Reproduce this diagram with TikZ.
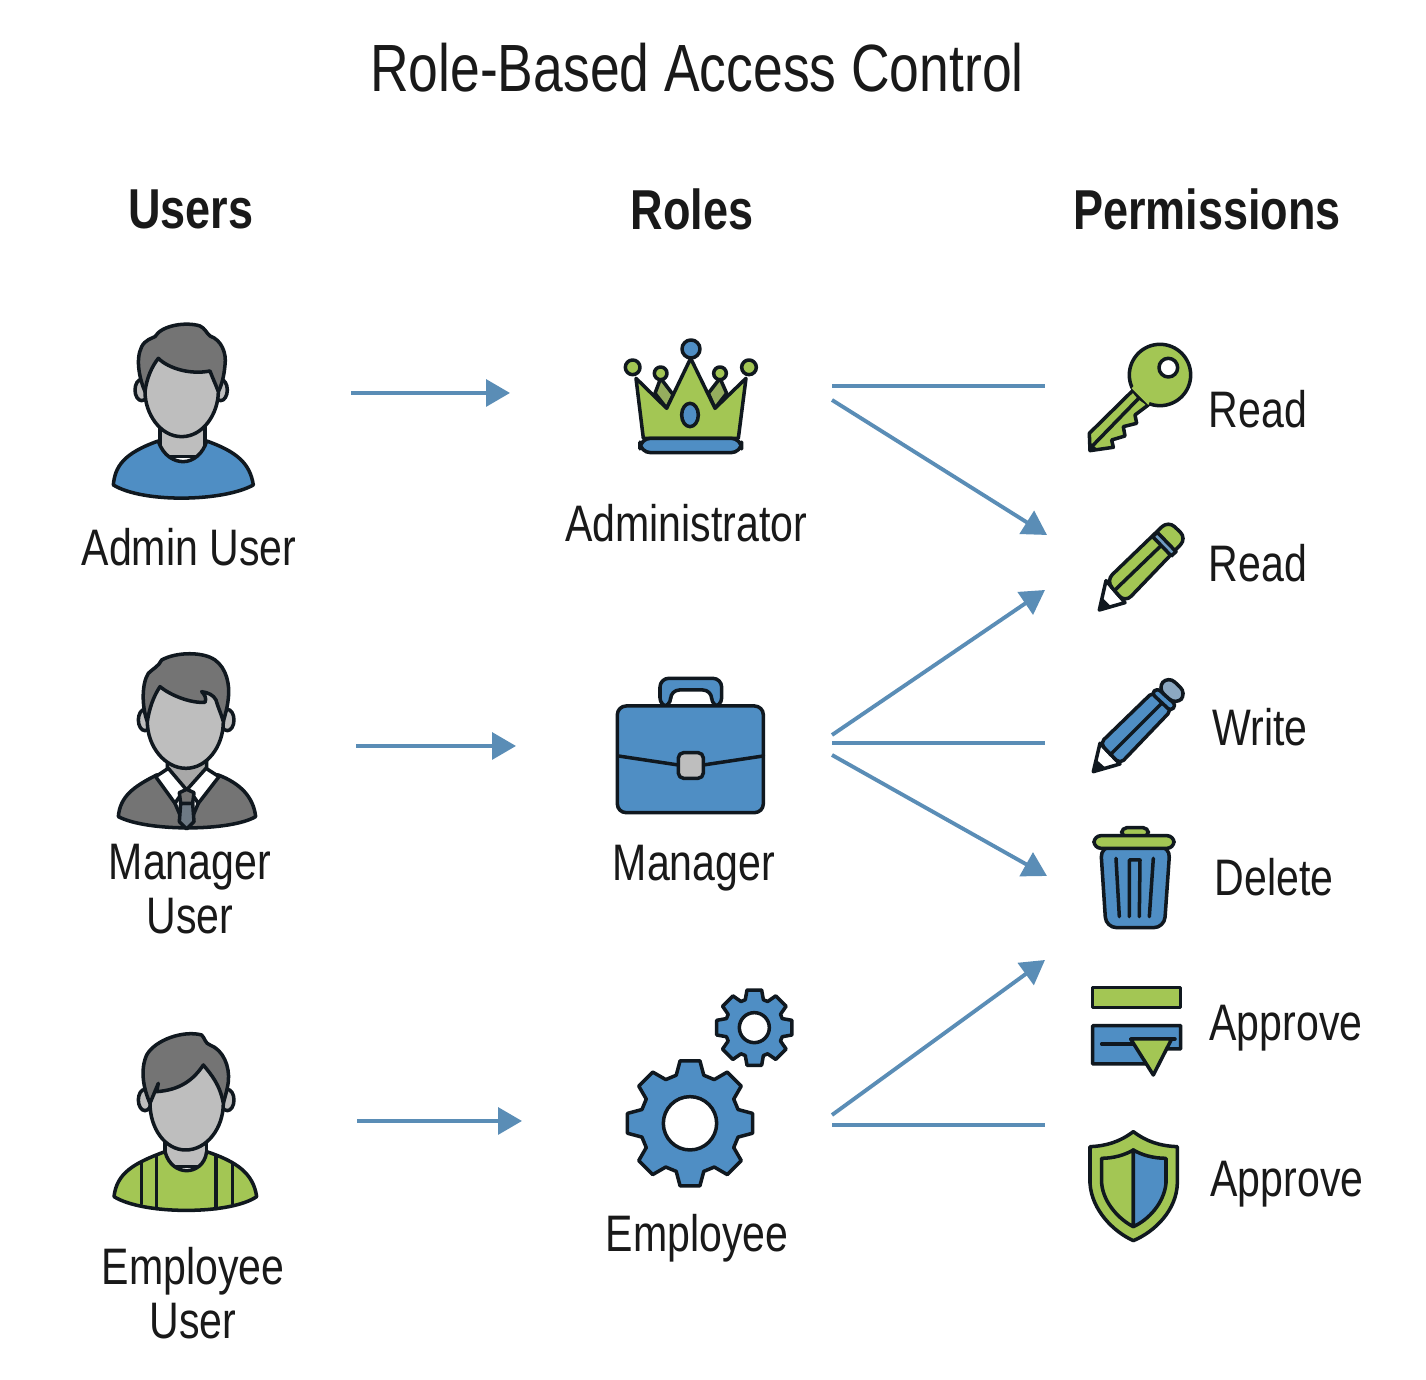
\documentclass[tikz,border=0pt]{standalone}
\usepackage{fontspec}
\setmainfont[FakeStretch=0.8]{Liberation Sans}
\usetikzlibrary{arrows.meta}
\definecolor{inkline}{HTML}{10181F}
\definecolor{iconblue}{HTML}{4F8EC4}
\definecolor{icongreen}{HTML}{A3C654}
\definecolor{hairgray}{HTML}{747474}
\definecolor{facegray}{HTML}{BEBEBE}
\definecolor{linkblue}{HTML}{5A8DB6}
\begin{document}
\begin{tikzpicture}[x=0.01cm, y=-0.01cm,
    >={Triangle[length=6.8pt, width=7.6pt]},
    icon/.style={draw=inkline, line width=1pt, line join=round, line cap=round},
    link/.style={draw=linkblue, line width=1.1pt},
    heading/.style={font=\fontsize{16}{19}\selectfont\bfseries, text=black!90},
    label/.style={font=\fontsize{14.6}{15.4}\selectfont, text=black!90, align=center},
    tiny/.style={shift={(#1)}, scale=1/3}]
  \useasboundingbox (0,0) rectangle (1426,1380);
  \fill[white] (0,0) rectangle (1426,1380);

  % --- title and column heads ---
  \node[font=\fontsize{19}{22}\selectfont, text=black!90] (title) at (697,68) {Role-Based Access Control};
  \node[heading] (users) at (191,209) {Users};
  \node[heading] (roles) at (692,209) {Roles};
  \node[heading] (perms) at (1207,209) {Permissions};

  % --- admin user ---
  \begin{scope}[tiny={90,310}]
    \draw[icon, fill=facegray] (210,350) rectangle (345,440);
    \draw[icon, fill=iconblue] (70,525) .. controls (75,470) and (100,430) .. (205,393)
      .. controls (220,440) and (255,455) .. (280,455) .. controls (310,455) and (340,430) .. (350,393)
      .. controls (440,425) and (480,460) .. (490,525) .. controls (400,575) and (160,580) .. (70,525) -- cycle;
    \draw[icon, fill=facegray] (155,240) circle [x radius=20, y radius=32];
    \draw[icon, fill=facegray] (392,240) circle [x radius=20, y radius=32];
    \draw[icon, fill=hairgray] (165,245) .. controls (150,210) and (135,150) .. (155,110)
      .. controls (165,90) and (185,85) .. (195,80) .. controls (215,45) and (290,35) .. (330,48)
      .. controls (345,55) and (350,70) .. (360,78) .. controls (395,90) and (410,130) .. (405,165)
      .. controls (402,200) and (395,225) .. (385,245) -- cycle;
    \draw[icon, fill=facegray] (165,245) .. controls (170,205) and (185,170) .. (205,145)
      .. controls (235,175) and (300,195) .. (360,183) .. controls (368,205) and (378,225) .. (385,245)
      .. controls (385,310) and (340,380) .. (275,380) .. controls (210,380) and (165,310) .. (165,245) -- cycle;
  \end{scope}

  % --- manager user ---
  \begin{scope}[tiny={90,640}]
    \draw[icon, fill=hairgray] (85,530) .. controls (90,470) and (130,440) .. (200,405) -- (385,405)
      .. controls (450,430) and (490,470) .. (497,530) .. controls (420,575) and (170,575) .. (85,530) -- cycle;
    \draw[icon, fill=facegray!70!hairgray] (232,360) -- (232,410) -- (290,450) -- (350,410) -- (350,360) -- cycle;
    \draw[icon, fill=white] (197,410) -- (235,385) -- (290,450) -- (255,490) -- cycle;
    \draw[icon, fill=white] (387,410) -- (348,385) -- (290,450) -- (325,490) -- cycle;
    \draw[icon, fill=white] (255,490) -- (272,465) -- (285,560) -- cycle;
    \draw[icon, fill=white] (325,490) -- (308,465) -- (295,560) -- cycle;
    \draw[icon, fill=hairgray!80!iconblue] (272,490) -- (308,490) -- (312,545) -- (290,567) -- (268,545) -- cycle;
    \draw[icon, fill=hairgray] (268,458) -- (290,448) -- (312,458) -- (308,490) -- (272,490) -- cycle;
    \draw[icon, fill=facegray] (165,240) circle [x radius=20, y radius=32];
    \draw[icon, fill=facegray] (412,240) circle [x radius=20, y radius=32];
    \draw[icon, fill=hairgray] (172,245) .. controls (155,200) and (155,130) .. (175,100)
      .. controls (190,85) and (205,80) .. (215,60) .. controls (260,35) and (340,35) .. (375,60)
      .. controls (410,85) and (420,135) .. (415,175) .. controls (412,205) and (405,225) .. (400,245) -- cycle;
    \draw[icon, fill=facegray] (172,245) .. controls (178,205) and (190,170) .. (210,140)
      .. controls (240,165) and (300,190) .. (345,187) .. controls (350,175) and (345,165) .. (335,155)
      .. controls (355,158) and (370,165) .. (378,180) .. controls (385,205) and (395,225) .. (400,245)
      .. controls (400,320) and (350,385) .. (288,385) .. controls (225,385) and (172,320) .. (172,245) -- cycle;
  \end{scope}

  % --- employee user ---
  \begin{scope}[tiny={90,1020}]
    \draw[icon, fill=facegray] (225,360) rectangle (350,440);
    \draw[icon, fill=icongreen] (72,530) .. controls (80,460) and (130,430) .. (225,395)
      .. controls (235,435) and (265,452) .. (290,452) .. controls (315,452) and (345,435) .. (350,395)
      .. controls (440,425) and (490,460) .. (500,530) .. controls (420,585) and (160,585) .. (72,530) -- cycle;
    \foreach \sx/\sa/\sb in {155/425/552, 200/405/566, 378/410/566, 428/430/552}
      \draw[icon] (\sx,\sa) -- (\sx,\sb);
    \draw[icon, fill=facegray] (165,240) circle [x radius=20, y radius=32];
    \draw[icon, fill=facegray] (412,240) circle [x radius=20, y radius=32];
    \draw[icon, fill=hairgray] (180,250) .. controls (160,205) and (150,150) .. (170,105)
      .. controls (195,60) and (280,30) .. (335,45) .. controls (345,55) and (345,70) .. (360,75)
      .. controls (400,90) and (420,140) .. (415,185) .. controls (412,210) and (405,230) .. (400,250) -- cycle;
    \draw[icon, fill=facegray] (180,250) -- (205,190) -- (200,215)
      .. controls (270,210) and (310,180) .. (340,135) .. controls (365,165) and (390,195) .. (400,250)
      .. controls (400,325) and (350,390) .. (287,390) .. controls (225,390) and (180,325) .. (180,250) -- cycle;
  \end{scope}

  % --- crown ---
  \begin{scope}[tiny={610,330}]
    \draw[icon, fill=icongreen!70!hairgray] (152,145) -- (190,195) -- (170,235) -- (135,190) -- cycle;
    \draw[icon, fill=icongreen!70!hairgray] (330,145) -- (350,190) -- (315,235) -- (295,190) -- cycle;
    \draw[icon, fill=icongreen] (78,145) -- (170,235) -- (242,85) -- (315,235) -- (408,145) -- (385,325) -- (100,325) -- cycle;
    \draw[icon, fill=iconblue] (240,255) circle [x radius=25, y radius=35];
    \draw[icon, fill=icongreen] (68,112) circle (22);
    \draw[icon, fill=icongreen] (417,112) circle (22);
    \draw[icon, fill=icongreen] (152,130) circle (19);
    \draw[icon, fill=icongreen] (330,130) circle (19);
    \draw[icon, fill=iconblue] (243,57) circle (27);
    \draw[icon, fill=iconblue, rounded corners=3pt] (90,325) rectangle (395,368);
  \end{scope}

  % --- briefcase ---
  \begin{scope}[tiny={600,670}]
    \draw[icon, fill=iconblue, rounded corners=2.5pt] (180,110) -- (180,25) -- (365,25) -- (365,110)
      -- (335,110) -- (335,60) -- (212,60) -- (212,110) -- cycle;
    \draw[icon, fill=iconblue, rounded corners=2.5pt] (52,108) rectangle (490,428);
    \draw[icon] (55,258) -- (235,285);
    \draw[icon] (310,285) -- (490,258);
    \draw[icon, fill=facegray, rounded corners=1.5pt] (235,248) rectangle (310,325);
  \end{scope}

  % --- gears ---
  \begin{scope}[tiny={610,980}]
    \foreach \gx/\gy/\ro/\ri/\rh/\ha in {240/430/190/150/80/9, 433/143/115/88/45/11} {
      \begin{scope}[shift={(\gx,\gy)}]
        \draw[icon, fill=iconblue] (-\ha-7:\ri) \foreach \a in {0,45,...,315} {
          -- (\a-\ha-7:\ri) -- (\a-\ha:\ro) -- (\a+\ha:\ro) -- (\a+\ha+7:\ri) } -- cycle;
        \draw[icon, fill=white] (0,0) circle (\rh);
      \end{scope}
    }
  \end{scope}

  % --- key and green pencil ---
  \begin{scope}[tiny={1070,330}]
    \draw[icon, fill=icongreen] (190,180) -- (58,310) -- (60,362) -- (130,352) -- (125,330) -- (165,318)
      -- (160,290) -- (200,280) -- (195,255) -- (235,225) -- cycle;
    \draw[icon] (208,203) -- (70,345);
    \fill[inkline] (58,335) -- (58,364) -- (85,360) -- cycle;
    \draw[icon, fill=icongreen] (270,135) circle (92);
    \fill[icongreen] (185,175) -- (235,225) -- (250,190) -- (210,150) -- cycle;
    \draw[icon, fill=white] (295,113) circle (28);
    % pencil
    \draw[icon, fill=white] (108,752) -- (165,818) -- (88,840) -- cycle;
    \fill[inkline] (88,840) -- (97,803) -- (122,828) -- cycle;
    \draw[icon, fill=icongreen, rounded corners=2.5pt] (108,752) -- (295,572) -- (350,625) -- (165,818) -- cycle;
    \draw[icon] (135,780) -- (270,650);
    \draw[icon, fill=iconblue!70!facegray] (248,620) -- (262,607) -- (318,665) -- (304,678) -- cycle;
  \end{scope}

  % --- blue pencil and bin ---
  \begin{scope}[tiny={1070,660}]
    \draw[icon, fill=white] (90,250) -- (150,312) -- (70,335) -- cycle;
    \fill[inkline] (70,335) -- (78,298) -- (105,322) -- cycle;
    \draw[icon, fill=iconblue, rounded corners=1.5pt] (90,250) -- (250,95) -- (305,150) -- (150,312) -- cycle;
    \draw[icon] (120,285) -- (275,130);
    \draw[icon, fill=iconblue, rounded corners=1pt] (245,100) -- (262,85) -- (318,135) -- (302,153) -- cycle;
    \draw[icon, fill=iconblue!45!facegray, rounded corners=2.5pt] (262,85) -- (295,48) -- (350,100) -- (318,135) -- cycle;
    % bin
    \draw[icon, fill=icongreen, rounded corners=1.5pt] (155,530) -- (155,503) -- (235,503) -- (235,530) -- cycle;
    \draw[icon, fill=iconblue, rounded corners=3pt] (92,560) -- (108,803) -- (283,803) -- (300,560) -- cycle;
    \draw[icon, fill=icongreen, rounded corners=2pt] (72,527) rectangle (312,565);
    \draw[icon] (138,595) -- (148,770);
    \draw[icon] (178,770) -- (178,600) -- (210,600) -- (208,770);
    \draw[icon] (250,595) -- (238,770);
  \end{scope}

  % --- approval form and shield ---
  \begin{scope}[tiny={1070,970}]
    \draw[icon, fill=icongreen] (68,52) rectangle (332,113);
    \draw[icon, fill=iconblue] (68,167) -- (332,167) -- (332,237) -- (290,237) -- (225,282) -- (68,282) -- cycle;
    \draw[icon] (95,222) -- (190,222);
    \draw[icon] (290,207) -- (315,207);
    \draw[icon, fill=icongreen] (182,207) -- (305,207) -- (250,315) -- cycle;
    % shield
    \draw[icon, fill=icongreen] (190,485) .. controls (150,515) and (110,528) .. (60,530) -- (60,640)
      .. controls (65,720) and (130,785) .. (190,812) .. controls (255,785) and (320,720) .. (322,640)
      -- (322,530) .. controls (270,528) and (230,515) .. (190,485) -- cycle;
    \draw[icon, fill=icongreen] (190,540) .. controls (165,555) and (130,565) .. (95,565) -- (95,640)
      .. controls (100,700) and (150,750) .. (190,770) -- cycle;
    \draw[icon, fill=iconblue] (190,540) .. controls (215,555) and (250,565) .. (288,565) -- (288,640)
      .. controls (282,700) and (235,750) .. (190,770) -- cycle;
  \end{scope}

  % --- labels ---
  \node[label] (adminuser) at (189,547) {Admin User};
  \node[label] (manageruser) at (190,889) {Manager\\User};
  \node[label] (employeeuser) at (193,1293) {Employee\\User};
  \node[label] (adminrole) at (686,523) {Administrator};
  \node[label] (managerrole) at (694,868) {Manager};
  \node[label] (employeerole) at (697,1238) {Employee};
  \node[label] (readone) at (1258,409) {Read};
  \node[label] (readtwo) at (1258,563) {Read};
  \node[label] (write) at (1260,727) {Write};
  \node[label] (delete) at (1274,877) {Delete};
  \node[label] (approveone) at (1286,1028) {Approve};
  \node[label] (approvetwo) at (1287,1184) {Approve};

  % --- link ends ---
  \coordinate (adminA) at (351,393);
  \coordinate (adminB) at (510,393);
  \coordinate (managerA) at (356,746);
  \coordinate (managerB) at (516,746);
  \coordinate (employeeA) at (357,1121);
  \coordinate (employeeB) at (522,1121);
  \coordinate (crownA) at (832,386);
  \coordinate (crownB) at (832,400);
  \coordinate (caseA) at (832,735);
  \coordinate (caseB) at (832,743);
  \coordinate (caseC) at (832,755);
  \coordinate (gearA) at (832,1115);
  \coordinate (gearB) at (832,1125);
  \coordinate (keyEnd) at (1045,386);
  \coordinate (penEnd) at (1047,535);
  \coordinate (penEndB) at (1045,590);
  \coordinate (writeEnd) at (1045,743);
  \coordinate (binEnd) at (1047,876);
  \coordinate (formEnd) at (1045,960);
  \coordinate (shieldEnd) at (1045,1125);

  % --- links ---
  \draw[link, ->] (adminA) -- (adminB);
  \draw[link, ->] (managerA) -- (managerB);
  \draw[link, ->] (employeeA) -- (employeeB);
  \draw[link] (crownA) -- (keyEnd);
  \draw[link, ->] (crownB) -- (penEnd);
  \draw[link, ->] (caseA) -- (penEndB);
  \draw[link] (caseB) -- (writeEnd);
  \draw[link, ->] (caseC) -- (binEnd);
  \draw[link, ->] (gearA) -- (formEnd);
  \draw[link] (gearB) -- (shieldEnd);
\end{tikzpicture}
\end{document}
